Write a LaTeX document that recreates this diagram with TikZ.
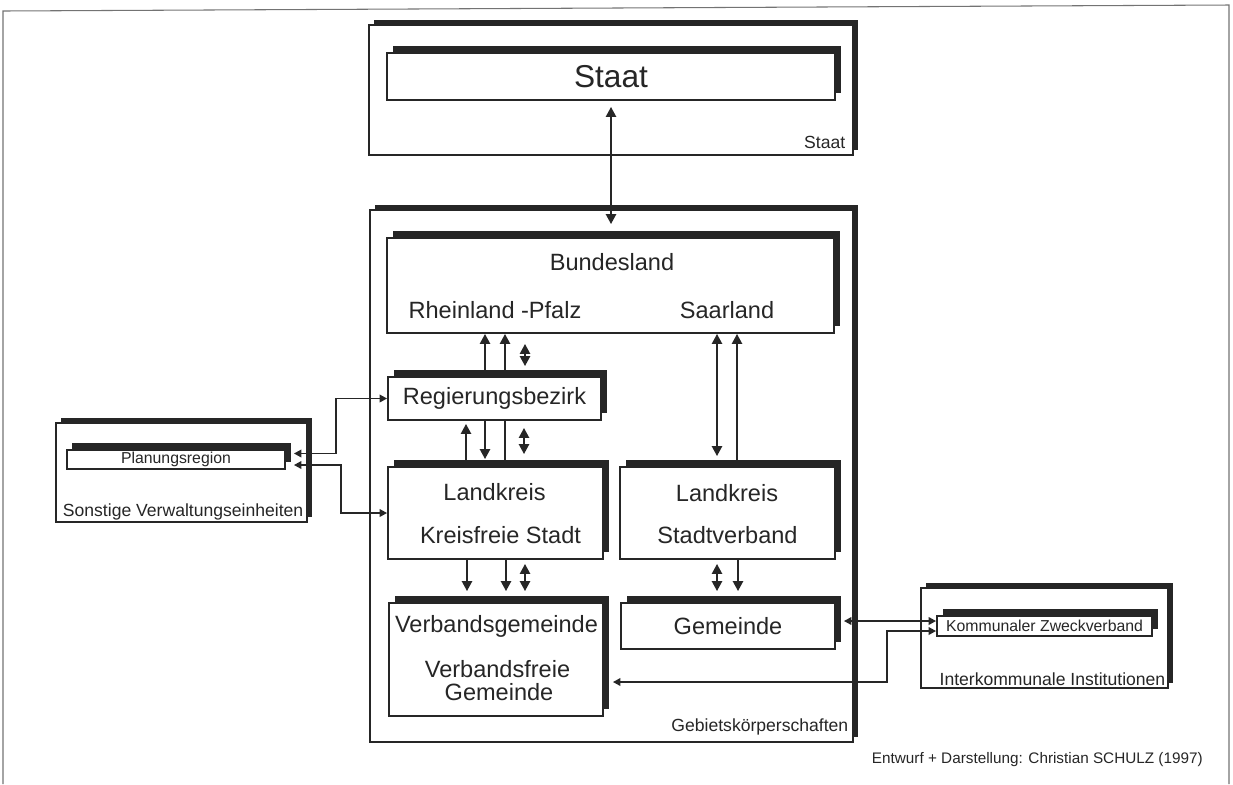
\documentclass[tikz,border=0pt]{standalone}
\usepackage{fontspec}
\setmainfont{Liberation Sans}
\usetikzlibrary{arrows.meta, shadows}

\begin{document}
\begin{tikzpicture}[x=0.2mm, y=-0.2mm,
		box/.style={draw=black!85, line width=1pt, fill=white, inner sep=0pt,
			general shadow={fill=black!85, shadow xshift=1.1mm, shadow yshift=1.4mm}},
		grpbox/.style={draw=black!85, line width=0.7pt, fill=white, inner sep=0pt,
			general shadow={fill=black!85, shadow xshift=1mm, shadow yshift=1.1mm}},
		big/.style={font=\fontsize{13.4}{16}\selectfont, text=black!85, inner sep=0pt},
		small/.style={font=\fontsize{9}{11}\selectfont, text=black!85},
		grplabel/.style={font=\fontsize{10}{12}\selectfont, text=black!85, inner sep=0pt, anchor=base east},
		arr/.style={line width=1.3pt, draw=black!85, -{Triangle[length=2mm,width=2mm]}},
		dblarr/.style={line width=1.3pt, draw=black!85, {Triangle[length=2mm,width=2mm]}-{Triangle[length=2mm,width=2mm]}},
		link/.style={line width=1.1pt, draw=black!85, {Triangle[length=1.5mm,width=1.5mm]}-{Triangle[length=1.5mm,width=1.5mm]}}
	]
		\useasboundingbox (0,0) rectangle (1233,784);
		
		% Page frame
		\draw[black!55, line width=0.6pt] (3,784) -- (3,11) -- (1229,5) -- (1229,784);
		
		% Group boxes
		\node[grpbox, minimum width=96.8mm, minimum height=26mm] (staatgrp) at (611,90) {};
		\node[grpbox, minimum width=96.6mm, minimum height=106.4mm] (gebgrp) at (611.5,476) {};
		\node[grpbox, minimum width=50.2mm, minimum height=19.8mm] (sonstgrp) at (181.5,472.5) {};
		\node[grpbox, minimum width=49.4mm, minimum height=20mm] (interk) at (1044.5,638) {};
		
		\node[grplabel] (staatlbl) at ([xshift=-1.6mm,yshift=1.4mm]staatgrp.south east) {Staat};
		\node[grplabel] (geblbl) at ([xshift=-1mm,yshift=2.2mm]gebgrp.south east) {Gebietskörperschaften};
		\node[grplabel] (sonstlbl) at ([xshift=-0.8mm,yshift=1.2mm]sonstgrp.south east) {Sonstige Verwaltungseinheiten};
		\node[grplabel] (interklbl) at ([xshift=-0.6mm,yshift=0.6mm]interk.south east) {Interkommunale Institutionen};
		
		% Boxes
		\node[box, minimum width=89.6mm, minimum height=9.4mm, font=\fontsize{18}{20}\selectfont, text=black!85] (staatbox) at (611,76.5) {\raisebox{-0.5mm}{Staat}};
		\node[box, minimum width=89.4mm, minimum height=19mm] (bland) at (610.5,285.5) {};
		\node[box, big, minimum width=42.6mm, minimum height=8.6mm] (regbez) at (494.5,398.5) {Regierungsbezirk};
		\node[box, minimum width=43mm, minimum height=18.4mm] (lkl) at (495.5,513) {};
		\node[box, minimum width=43mm, minimum height=18.4mm] (lkr) at (727.5,513) {};
		\node[box, minimum width=42.8mm, minimum height=22.6mm] (vg) at (496,659.5) {};
		\node[box, big, minimum width=42.8mm, minimum height=9.2mm] (gem) at (728,626) {Gemeinde};
		\node[box, small, inner sep=0pt, minimum width=43.6mm, minimum height=3.8mm] (plan) at (176,459.5) {Planungsregion};
		\node[box, small, inner sep=0pt, minimum width=43mm, minimum height=4mm] (zweck) at (1044.5,626) {Kommunaler Zweckverband};
		
		% Texts in the boxes
		\node[big] (bltext) at (612,262) {Bundesland};
		\node[big] (rlptext) at (495,310) {Rheinland -Pfalz};
		\node[big] (saartext) at (727,310) {Saarland};
		\node[big] (lkltext) at (494.5,492) {Landkreis};
		\node[big] (kfstext) at (500.5,535) {Kreisfreie Stadt};
		\node[big] (lkrtext) at (727,493) {Landkreis};
		\node[big] (svtext) at (727.5,535) {Stadtverband};
		\node[big] (vgtext) at (496.5,626) {Verbandsgemeinde};
		\node[big] (vftext) at (497.5,669) {Verbandsfreie};
		\node[big] (vfgtext) at (499,692) {Gemeinde};
		
		% Staat <-> Bundesland
		\draw[dblarr, shorten <=1.2mm, shorten >=2.6mm] (staatbox.south) -- (staatbox.south |- bland.north);
		
		% Bundesland <-> Regierungsbezirk
		\foreach \xx in {485,505}
			\draw[arr] (\xx,0 |- regbez.north) -- (\xx,0 |- bland.south);
		\draw[dblarr, shorten <=2mm, shorten >=2mm] (525,0 |- regbez.north) -- (525,0 |- bland.south);
		
		% Regierungsbezirk <-> Landkreis
		\draw[arr, shorten >=0.6mm] (466,0 |- lkl.north) -- (466,0 |- regbez.south);
		\draw[arr, shorten >=1.4mm] (485,0 |- regbez.south) -- (485,0 |- lkl.north);
		\draw[line width=1.3pt, draw=black!85] (505,0 |- regbez.south) -- (505,0 |- lkl.north);
		\draw[dblarr, shorten <=1.4mm, shorten >=2.4mm] (524,0 |- regbez.south) -- (524,0 |- lkl.north);
		
		% Landkreis -> Verbandsgemeinde
		\foreach \xx in {467,506}
			\draw[arr, shorten >=2.2mm] (\xx,0 |- lkl.south) -- (\xx,0 |- vg.north);
		\draw[dblarr, shorten <=0.8mm, shorten >=2.2mm] (525,0 |- lkl.south) -- (525,0 |- vg.north);
		
		% Saarland
		\draw[dblarr, shorten >=2mm] (717,0 |- bland.south) -- (717,0 |- lkr.north);
		\draw[arr] (737,0 |- lkr.north) -- (737,0 |- bland.south);
		\draw[dblarr, shorten <=0.8mm, shorten >=2.2mm] (717,0 |- lkr.south) -- (717,0 |- gem.north);
		\draw[arr, shorten >=2.2mm] (738,0 |- lkr.south) -- (738,0 |- gem.north);
		
		% Planungsregion links
		\draw[link] ([xshift=1.6mm,yshift=1.2mm]plan.east) -| ([xshift=-10.2mm]regbez.west) -- (regbez.west);
		\draw[link] ([xshift=1.6mm,yshift=-1.1mm]plan.east) -| ([xshift=-9.2mm]lkl.west) -- (lkl.west);
		
		% Zweckverband links
		\draw[link] ([xshift=1.6mm,yshift=1mm]gem.east) -- ([yshift=1mm]zweck.west);
		\draw[link] ([xshift=1.8mm,yshift=-4.5mm]vg.east) -| ([xshift=-9.8mm,yshift=-1mm]zweck.west) -- ([yshift=-1mm]zweck.west);
		
		\node[font=\fontsize{8.7}{10}\selectfont, text=black!85, anchor=base east, inner sep=0pt] (credit) at (1203,763) {Entwurf + Darstellung: Christian SCHULZ (1997)};
		
	\end{tikzpicture}
\end{document}
